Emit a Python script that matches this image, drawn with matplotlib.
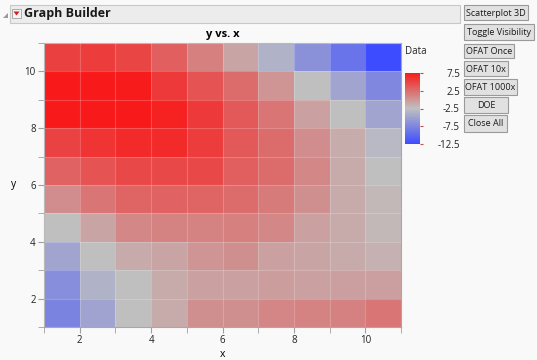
import numpy as np
import matplotlib
matplotlib.use("Agg")
from matplotlib import pyplot as plt
from matplotlib.colors import LinearSegmentedColormap
from matplotlib.patches import Rectangle, Polygon

plt.rcParams['font.family'] = ['Open Sans', 'DejaVu Sans']
plt.rcParams['axes.unicode_minus'] = False

# cell edges along x and y
x_edges = [1, 2, 3, 4, 5, 6, 7, 8, 9, 10, 11]
y_edges = [1, 2, 3, 4, 5, 6, 7, 8, 9, 10, 11]

# values per row, bottom (y=1) to top (y=10), columns x=1..10
row1 = [-7.8, -5.0, -2.5, -1.2, 0.4, 0.4, 1.0, 1.2, 1.3, 2.0]
row2 = [-6.8, -3.7, -2.5, -1.2, -0.6, -0.6, -0.4, -0.6, -0.5, -0.5]
row3 = [-4.9, -2.5, -1.2, -0.8, 0.1, 0.4, -0.6, -0.8, -1.2, -1.6]
row4 = [-2.5, -0.8, 0.9, 1.2, 1.2, 1.4, 0.9, -0.6, -1.2, -2.0]
row5 = [0.6, 2.0, 3.0, 3.2, 3.0, 2.5, 1.7, 0.4, -1.2, -2.0]
row6 = [3.2, 4.0, 4.7, 4.7, 4.7, 3.3, 2.5, 0.9, -1.2, -2.5]
row7 = [5.0, 6.0, 6.5, 6.5, 5.4, 3.7, 2.5, 0.6, -1.3, -3.1]
row8 = [7.6, 8.1, 8.1, 7.1, 5.6, 3.7, 2.0, -0.6, -2.5, -4.9]
row9 = [7.9, 8.1, 7.4, 5.6, 4.0, 2.5, 0.1, -2.5, -4.9, -7.4]
row10 = [5.2, 5.4, 4.9, 3.3, 1.4, -0.8, -3.7, -6.5, -9.1, -12.5]

cbar_ticks = [7.5, 2.5, -2.5, -7.5, -12.5]
buttons = ["Scatterplot 3D", "Toggle Visibility", "OFAT Once", "OFAT 10x",
           "OFAT 1000x", "DOE", "Close All"]

Z = np.array([row1, row2, row3, row4, row5, row6, row7, row8, row9, row10])

cmap = LinearSegmentedColormap.from_list(
    "jmp", [(0.0, "#3d4cff"), (0.5, "#c0c0c0"), (1.0, "#f81a1a")])

fig = plt.figure(figsize=(5.37, 3.6), dpi=100)
fig.patch.set_facecolor("#f9f9f9")

W, H = 537.0, 360.0

# background overlay in pixel coordinates
bg = fig.add_axes([0, 0, 1, 1], zorder=0)
bg.set_xlim(0, W)
bg.set_ylim(H, 0)
bg.axis("off")

bg.add_patch(Rectangle((10, 5), 450, 18, facecolor="#ececec", edgecolor="#c8c8c8", lw=0.8))
bg.add_patch(Polygon([[3, 18], [8, 13], [8, 18]], closed=True, facecolor="#9a9a9a", edgecolor="none"))
bg.add_patch(Rectangle((12, 9), 9, 9, facecolor="#f4f4f4", edgecolor="#a0a0a0", lw=0.6))
bg.add_patch(Polygon([[13.5, 11.5], [19.5, 11.5], [16.5, 15.5]], closed=True,
                     facecolor="#d02020", edgecolor="none"))
bg.text(24, 14, "Graph Builder", fontsize=9, fontweight="bold", va="center", ha="left", color="#1a1a1a")

btn_boxes = [(5, 20, 64), (24, 40, 70), (44, 58, 50), (61, 76, 44),
             (79, 95, 53), (97, 113, 44), (115, 132, 43)]
for label, (y0, y1, w) in zip(buttons, btn_boxes):
    bg.add_patch(Rectangle((464, y0), w, y1 - y0, facecolor="#e1e1e1", edgecolor="#9a9a9a", lw=0.8))
    bg.text(464 + w / 2, (y0 + y1) / 2 + 0.5, label, fontsize=6.5, ha="center", va="center", color="#1a1a1a")

# main heatmap
ax = fig.add_axes([44 / W, 1 - 327 / H, (401 - 44) / W, (327 - 43) / H], zorder=2)
ax.set_facecolor("white")
mesh = ax.pcolormesh(x_edges, y_edges, Z, cmap=cmap, vmin=-12.5, vmax=7.5)
ax.set_xlim(1, 11)
ax.set_ylim(1, 11)
ax.set_xticks([2, 4, 6, 8, 10])
ax.set_yticks([2, 4, 6, 8, 10])
ax.set_xticks([1, 3, 5, 7, 9, 11], minor=True)
ax.set_yticks([1, 3, 5, 7, 9, 11], minor=True)
ax.tick_params(which="both", length=4, color="#a0a0a0", labelsize=7, labelcolor="#222222", pad=2)
ax.grid(which="both", color="white", alpha=0.2, lw=0.8)
ax.set_axisbelow(False)
for s in ax.spines.values():
    s.set_color("#a8a8a8")
ax.set_title("y vs. x", fontsize=8, fontweight="bold", pad=4)
ax.set_xlabel("x", fontsize=7.5, labelpad=2)
ax.set_ylabel("y", fontsize=7.5, rotation=0, labelpad=8, va="center")

# colorbar
cax = fig.add_axes([405 / W, 1 - 144 / H, 15 / W, (144 - 73) / H], zorder=2)
cb = fig.colorbar(mesh, cax=cax, ticks=cbar_ticks)
cb.outline.set_visible(False)
cax.tick_params(length=2, color="#c05050", labelsize=7, labelcolor="#222222", pad=3)
for t in cax.get_yticklabels():
    t.set_horizontalalignment("right")
    t.set_x(3.2)
bg.text(405, 51, "Data", fontsize=7, ha="left", va="center", color="#222222")

plt.savefig("out.png", dpi=100, facecolor=fig.get_facecolor())
